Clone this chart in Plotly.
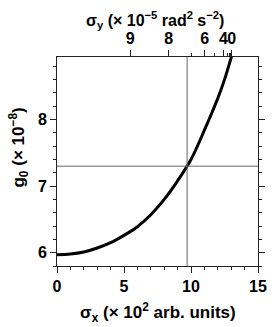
import plotly.graph_objects as go

# Curve: g0 (x1e-8) versus sigma_x (x1e2 arb. units)
sigma_x = [0, 1, 2, 3, 4, 5, 6, 7, 8, 9, 10, 11, 12, 12.5, 13.04]
g0 = [5.97, 5.98, 6.01, 6.07, 6.15, 6.26, 6.39, 6.57, 6.80, 7.08, 7.40, 7.84, 8.32, 8.60, 8.96]

# Reference crosshair
ref_x = 9.71
ref_y = 7.30

# Top axis (sigma_y) tick labels and their sigma_x positions
top_major_labels = ["9", "8", "6", "4", "0"]
top_major_pos = [5.47, 8.33, 11.02, 12.43, 13.04]
top_minor_pos = [10.0, 11.74, 12.69, 12.86, 12.97]

x_range = [0, 15]
y_range = [5.8, 8.94]

FONT = "Liberation Sans, Arial, sans-serif"
AX = "#222"

fig = go.Figure()
fig.add_trace(go.Scatter(x=sigma_x, y=g0, mode="lines", line=dict(color="black", width=3, shape="spline"),
                         showlegend=False, hoverinfo="skip"))
fig.add_trace(go.Scatter(x=[ref_x, ref_x], y=y_range, mode="lines", line=dict(color="#666", width=1),
                         showlegend=False, hoverinfo="skip"))
fig.add_trace(go.Scatter(x=x_range, y=[ref_y, ref_y], mode="lines", line=dict(color="#666", width=1),
                         showlegend=False, hoverinfo="skip"))
# dummy trace for top axis
fig.add_trace(go.Scatter(x=x_range, y=y_range, xaxis="x2", mode="markers", marker=dict(opacity=0),
                         showlegend=False, hoverinfo="skip"))

tickfont = dict(family=FONT, size=16, color="black", weight="bold")

fig.update_layout(
    width=277, height=327,
    margin=dict(l=57, r=10, t=57, b=61),
    paper_bgcolor="white", plot_bgcolor="white",
    xaxis=dict(range=x_range, tickvals=[0, 5, 10, 15], ticks="outside", ticklen=6, tickwidth=1,
               tickcolor=AX, showline=True, linecolor=AX, linewidth=1, mirror=True,
               showgrid=False, zeroline=False, tickfont=tickfont, tickangle=0,
               minor=dict(dtick=1, ticks="outside", ticklen=3, tickcolor=AX)),
    xaxis2=dict(range=x_range, overlaying="x", side="top", tickmode="array",
                tickvals=top_major_pos, ticktext=top_major_labels, ticks="outside", ticklen=6,
                tickcolor=AX, showline=False, showgrid=False, zeroline=False, tickfont=tickfont,
                tickangle=0,
                minor=dict(tickmode="array", tickvals=top_minor_pos, ticks="outside", ticklen=3, tickcolor=AX)),
    yaxis=dict(range=y_range, tickvals=[6, 7, 8], ticks="outside", ticklen=6, tickwidth=1,
               tickcolor=AX, showline=True, linecolor=AX, linewidth=1, mirror="ticks",
               showgrid=False, zeroline=False, tickfont=tickfont,
               minor=dict(dtick=0.2, tick0=6, ticks="outside", ticklen=3, tickcolor=AX)),
    annotations=[
        dict(text="σ<sub>x</sub> (× 10<sup>2</sup> arb. units)", xref="paper", yref="paper",
             x=0.5, y=-0.155, xanchor="center", yanchor="top", showarrow=False,
             font=dict(family=FONT, size=17, color="black", weight="bold")),
        dict(text="σ<sub>y</sub> (× 10<sup>−5</sup> rad<sup>2</sup> s<sup>−2</sup>)", xref="paper", yref="paper",
             x=0.49, y=1.113, xanchor="center", yanchor="bottom", showarrow=False,
             font=dict(family=FONT, size=16, color="black", weight="bold")),
        dict(text="g<sub>0</sub> (× 10<sup>−8</sup>)", xref="paper", yref="paper",
             x=-0.19, y=0.566, xanchor="center", yanchor="middle", textangle=-90, showarrow=False,
             font=dict(family=FONT, size=17, color="black", weight="bold")),
    ],
)

fig.write_html("out.html")
